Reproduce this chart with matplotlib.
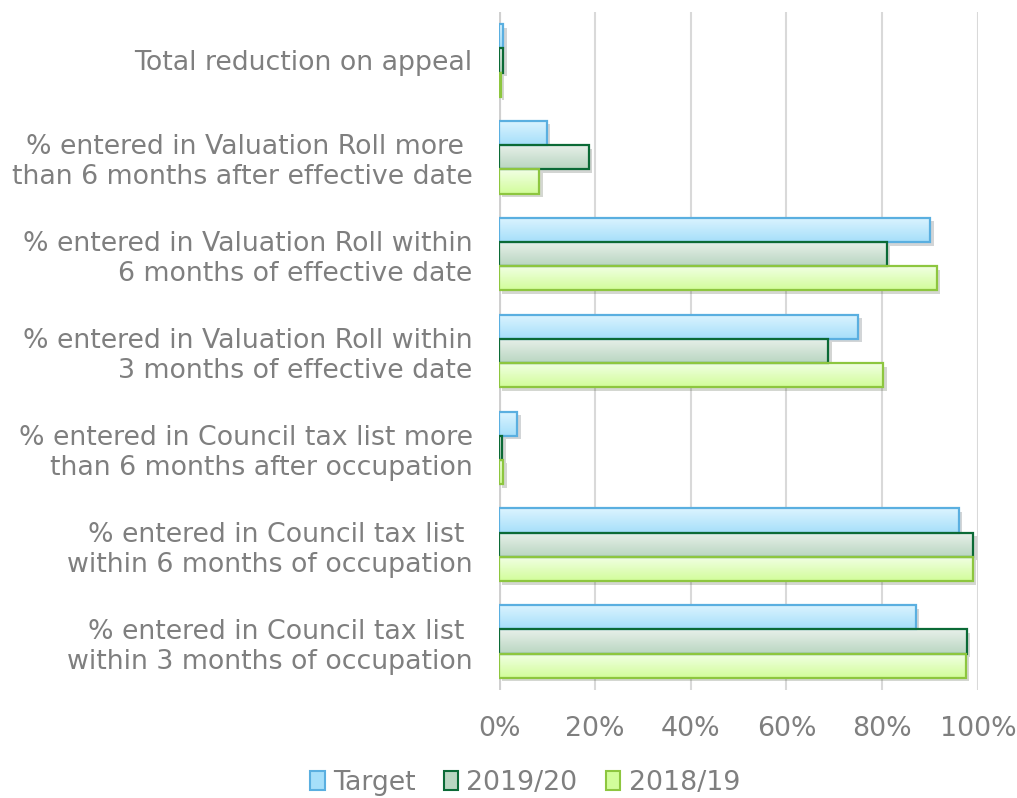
import matplotlib
matplotlib.use("Agg")
import matplotlib.pyplot as plt
import numpy as np
from matplotlib.patches import Patch
import matplotlib.patheffects as pe

categories = [
    "Total reduction on appeal",
    "% entered in Valuation Roll more \nthan 6 months after effective date",
    "% entered in Valuation Roll within\n6 months of effective date",
    "% entered in Valuation Roll within\n3 months of effective date",
    "% entered in Council tax list more\nthan 6 months after occupation",
    "% entered in Council tax list \nwithin 6 months of occupation",
    "% entered in Council tax list \nwithin 3 months of occupation",
]
series_names = ["Target", "2019/20", "2018/19"]
target = [0.9, 10.0, 90.0, 75.0, 3.8, 96.0, 87.0]
y2019_20 = [0.9, 18.7, 81.0, 68.7, 0.7, 99.0, 97.6]
y2018_19 = [0.4, 8.4, 91.4, 80.2, 0.9, 98.9, 97.4]
xticks = [0, 20, 40, 60, 80, 100]

series = [target, y2019_20, y2018_19]
tops = ["#dcf4ff", "#e8f0ea", "#f2ffe6"]
bottoms = ["#a6dffa", "#b9d6c1", "#d2fd9a"]
edges = ["#5aafe0", "#0b6a36", "#8dc63f"]

fig = plt.figure(figsize=(10.17, 7.98), dpi=100)
ax = fig.add_axes([499/1017, 1-690/798, (978-499)/1017, (690-12)/798])

grey = "#7f7f7f"
fs = 19.3
h = 0.25
n = len(categories)
ypos = np.arange(n)
for si, vals in enumerate(series):
    offs = (si - 1) * h
    # filled base with shadow (below gradient)
    base = ax.barh(ypos + offs, vals, height=h, facecolor=bottoms[si],
                   edgecolor="none", zorder=2)
    for b in base:
        b.set_path_effects([pe.SimplePatchShadow(offset=(2.5, -2.5), alpha=0.22), pe.Normal()])
    bars = ax.barh(ypos + offs, vals, height=h, facecolor="none",
                   edgecolor=edges[si], linewidth=1.6, zorder=4)
    c1 = np.array(matplotlib.colors.to_rgb(tops[si]))
    c2 = np.array(matplotlib.colors.to_rgb(bottoms[si]))
    grad = np.linspace(0, 1, 50)[:, None, None]
    img = c1 * (1 - grad) + c2 * grad
    for b in bars:
        x0, y0, w, hh = b.get_x(), b.get_y(), b.get_width(), b.get_height()
        im = ax.imshow(img, extent=(x0, x0 + w, y0 + hh, y0), aspect="auto",
                       origin="upper", zorder=3, interpolation="bilinear")
        im.set_clip_path(b)

ax.set_xlim(0, 100)
ax.set_ylim(n - 0.5, -0.5)
ax.set_yticks(ypos)
ax.set_yticklabels(categories, fontsize=fs, color=grey, linespacing=1.2)
ax.set_xticks(xticks)
ax.set_xticklabels([f"{t}%" for t in xticks], fontsize=fs, color=grey)
ax.tick_params(axis="y", length=0, pad=19)
ax.tick_params(axis="x", length=0, pad=19)
for s in ax.spines.values():
    s.set_visible(False)
ax.set_axisbelow(True)
ax.grid(axis="x", color="#d9d9d9", linewidth=1.5, zorder=0)
ax.axvline(0, color="#d0d0d0", linewidth=3, zorder=1)

handles = [Patch(facecolor=bottoms[i], edgecolor=edges[i], linewidth=1.5) for i in range(3)]
leg = fig.legend(handles, series_names, loc="center", bbox_to_anchor=(525/1017, 1-783/798),
                 ncol=3, frameon=False, fontsize=fs, handlelength=0.55, handleheight=0.75,
                 handletextpad=0.3, columnspacing=1.05, borderaxespad=0, borderpad=0)
for t in leg.get_texts():
    t.set_color(grey)

fig.savefig("out.png", dpi=100)
